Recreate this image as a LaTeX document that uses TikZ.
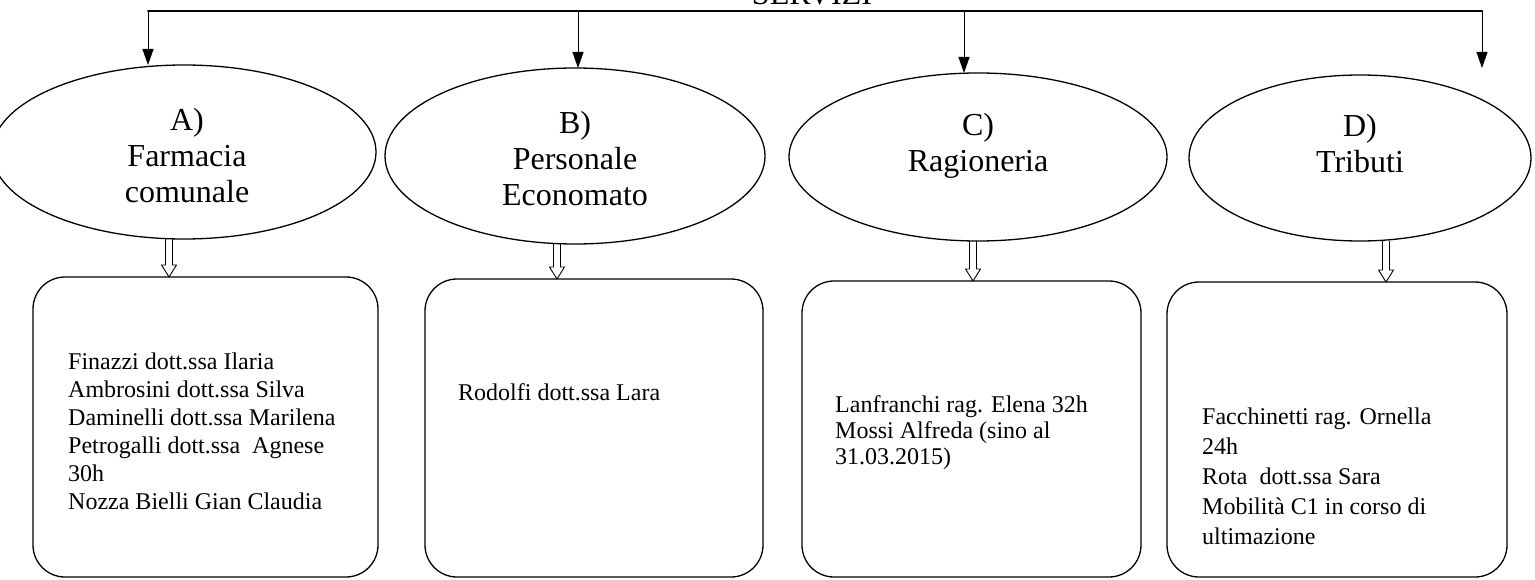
\documentclass[tikz,border=0pt]{standalone}
\usepackage{fontspec}
\setmainfont{Liberation Serif}
\usetikzlibrary{shapes.geometric,arrows.meta,calc}

\tikzset{
  office/.style={ellipse,draw,line width=1.3pt,inner sep=0pt,outer sep=0pt},
  officetext/.style={align=center,inner sep=0pt,font=\fontsize{32}{36}\selectfont},
  staffbox/.style={draw,line width=1.3pt,rounded corners=32pt,inner sep=0pt,outer sep=0pt},
  names/.style={align=left,anchor=base west,inner sep=0pt,font=\fontsize{24}{#1}\selectfont},
  names/.default=28,
  feed/.style={line width=1pt,-{Triangle[length=16pt,width=11pt]}},
}

% hollow arrow from the bottom of ellipse #1 to the top of box #2, moved by #3
\newcommand{\blockarrow}[3]{%
  \path ([xshift=#3pt]#1.south) coordinate (s) (s |- #2.north) coordinate (e);
  \draw[line width=0.9pt] ($(s)+(-3.5,0)$) -- ($(e)+(-3.5,-12)$) -- ($(e)+(-7.5,-12)$) -- (e)
    -- ($(e)+(7.5,-12)$) -- ($(e)+(3.5,-12)$) -- ($(s)+(3.5,0)$);}

\begin{document}
\begin{tikzpicture}[line cap=round,line join=round,x=1pt,y=-1pt]
	\useasboundingbox (0,0) rectangle (1535,580);
	\clip (0,0) rectangle (1535,580);
	% title and bar
	\node[anchor=base,inner sep=0pt,font=\fontsize{32}{32}\selectfont] (servizi) at (812,5) {SERVIZI};
	\coordinate (barA) at (148,11);
	\coordinate (barB) at (578,11);
	\coordinate (barC) at (964,11);
	\coordinate (barD) at (1482,11);
	\coordinate (tipD) at (1482,68);
	\draw[line width=2pt] (barA) -- (barD);
	% services
	\node[office,minimum width=384,minimum height=174] (A) at (184,152) {};
	\node[office,minimum width=380,minimum height=176] (B) at (575,156) {};
	\node[office,minimum width=378,minimum height=168] (C) at (978,157) {};
	\node[office,minimum width=342,minimum height=166] (D) at (1360,158) {};
	\node[officetext] (Atext) at ([xshift=3,yshift=-4]A.center) {A)\\Farmacia\\comunale};
	\node[officetext] (Btext) at ([yshift=-3]B.center) {B)\\Personale\\Economato};
	\node[officetext] (Ctext) at ([yshift=11]C.center) {C)\\Ragioneria};
	\node[officetext] (Dtext) at ([yshift=14]D.center) {D)\\Tributi};
	\draw[feed] (barA) -- (barA |- A.north);
	\draw[feed] (barB) -- (barB |- B.north);
	\draw[feed] (barC) -- (barC |- C.north);
	\draw[feed] (barD) -- (tipD);
	% staff (base = last line)
	\node[staffbox,minimum width=345,minimum height=300] (boxA) at (205.5,427) {};
	\node[staffbox,minimum width=338,minimum height=298] (boxB) at (594,428) {};
	\node[staffbox,minimum width=339,minimum height=296] (boxC) at (971.5,429) {};
	\node[staffbox,minimum width=340,minimum height=295] (boxD) at (1337,429.5) {};
	\node[names] (staffA) at (68,509) {Finazzi dott.ssa Ilaria\\Ambrosini dott.ssa Silva\\Daminelli dott.ssa Marilena\\Petrogalli dott.ssa~ Agnese\\30h\\Nozza Bielli Gian Claudia};
	\node[names] (staffB) at (458,400) {Rodolfi dott.ssa Lara};
	\node[names=26] (staffC) at (835,464) {Lanfranchi rag. Elena 32h\\Mossi Alfreda (sino al\\31.03.2015)};
	\node[names=30] (staffD) at (1202,544) {Facchinetti rag. Ornella\\24h\\Rota~ dott.ssa Sara\\Mobilità C1 in corso di\\ultimazione};
	\blockarrow{A}{boxA}{-15}
	\blockarrow{B}{boxB}{-18}
	\blockarrow{C}{boxC}{-5}
	\blockarrow{D}{boxD}{26}
\end{tikzpicture}
\end{document}
